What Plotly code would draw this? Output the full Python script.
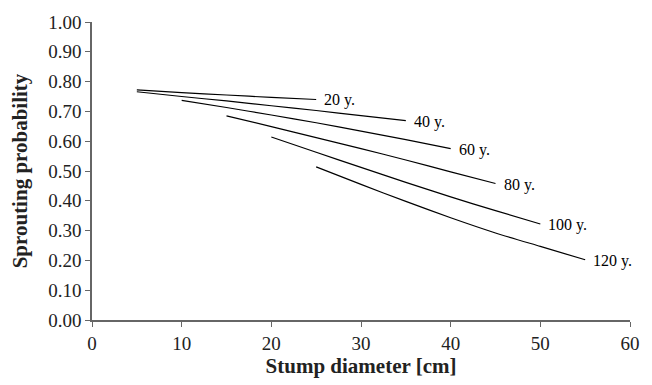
import plotly.graph_objects as go

# Stump diameter [cm] and sprouting probability per stand age
ages = ["20 y.", "40 y.", "60 y.", "80 y.", "100 y.", "120 y."]
d_20 = [5, 10, 15, 20, 25]
p_20 = [0.772, 0.763, 0.755, 0.747, 0.740]
d_40 = [5, 10, 15, 20, 25, 30, 35]
p_40 = [0.766, 0.750, 0.735, 0.719, 0.703, 0.686, 0.669]
d_60 = [10, 15, 20, 25, 30, 35, 40]
p_60 = [0.737, 0.713, 0.688, 0.662, 0.634, 0.605, 0.575]
d_80 = [15, 20, 25, 30, 35, 40, 45]
p_80 = [0.685, 0.649, 0.612, 0.575, 0.537, 0.497, 0.458]
d_100 = [20, 25, 30, 35, 40, 45, 50]
p_100 = [0.614, 0.563, 0.512, 0.462, 0.413, 0.367, 0.322]
d_120 = [25, 30, 35, 40, 45, 50, 55]
p_120 = [0.514, 0.455, 0.398, 0.343, 0.292, 0.247, 0.202]

series = list(zip(ages, [d_20, d_40, d_60, d_80, d_100, d_120],
                  [p_20, p_40, p_60, p_80, p_100, p_120]))

x_ticks = [0, 10, 20, 30, 40, 50, 60]
y_ticks = [0.0, 0.1, 0.2, 0.3, 0.4, 0.5, 0.6, 0.7, 0.8, 0.9, 1.0]

FONT = "Liberation Serif, Times New Roman, serif"

fig = go.Figure()
annotations = []
for name, xs, ys in series:
    fig.add_trace(go.Scatter(x=xs, y=ys, mode="lines", name=name,
                             line=dict(color="black", width=1.2, shape="spline", smoothing=0.6),
                             showlegend=False, hoverinfo="x+y+name"))
    annotations.append(dict(x=xs[-1], y=ys[-1], xref="x", yref="y",
                            text=name, showarrow=False, xanchor="left",
                            yanchor="middle", xshift=6, yshift=-1,
                            font=dict(family=FONT, size=16, color="black")))

axis_common = dict(showgrid=False, zeroline=False, showline=True,
                   linecolor="#666666", linewidth=1.5, ticks="outside",
                   ticklen=5, tickcolor="#666666", tickwidth=1.2,
                   tickfont=dict(family=FONT, size=19, color="#222222"))

fig.update_layout(
    width=652, height=385,
    margin=dict(l=92, r=20, t=19, b=58),
    paper_bgcolor="white", plot_bgcolor="white",
    xaxis=dict(range=[0, 60], tickvals=x_ticks,
               ticktext=[str(v) for v in x_ticks],
               title=dict(text="<b>Stump diameter [cm]</b>",
                          font=dict(family=FONT, size=21, color="#222222"),
                          standoff=5),
               **axis_common),
    yaxis=dict(range=[0, 1.0], tickvals=y_ticks,
               ticktext=[f"{v:.2f}" for v in y_ticks],
               title=dict(text="<b>Sprouting probability</b>",
                          font=dict(family=FONT, size=21, color="#222222"),
                          standoff=15),
               **axis_common),
    annotations=annotations,
)

fig.write_html("out.html")
